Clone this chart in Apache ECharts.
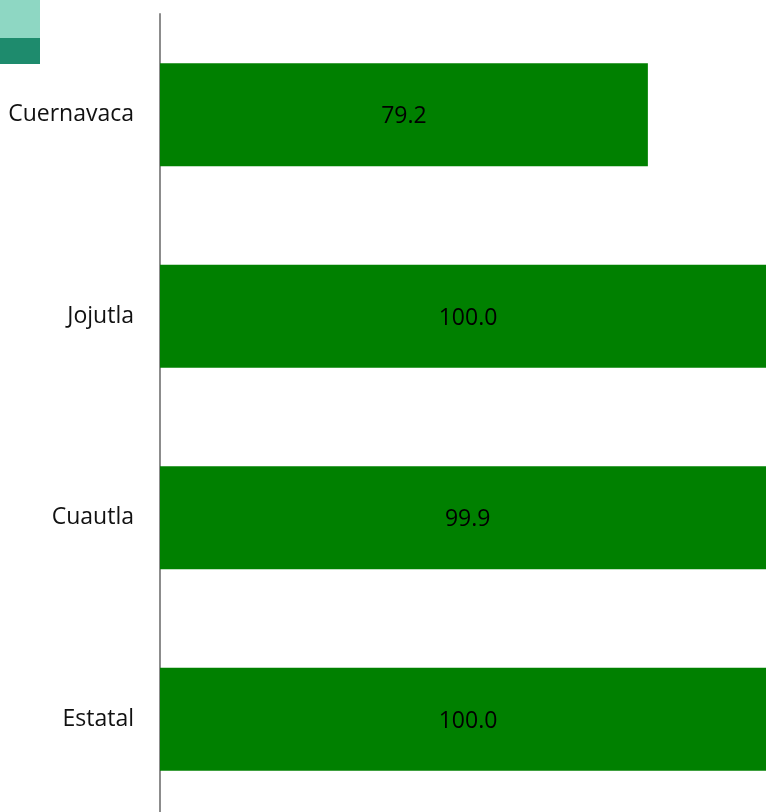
<!DOCTYPE html>
<html>
<head>
<meta charset="utf-8">
<script src="https://cdn.jsdelivr.net/npm/echarts@6/dist/echarts.min.js"></script>
<style>
  html, body { margin: 0; padding: 0; background: #fff; overflow: hidden; }
  /* the plot runs slightly past the right and bottom edges of the window */
  #chart { width: 776px; height: 820px; }
</style>
</head>
<body>
<div id="chart"></div>
<script>
// Coverage by region, percent
const categories = ['Cuernavaca', 'Jojutla', 'Cuautla', 'Estatal'];
const values = [79.2, 100.0, 99.9, 100.0];
const axisMin = 0;
const axisMax = 100;

const chart = echarts.init(document.getElementById('chart'), null, { renderer: 'canvas' });
const font = '"Open Sans", "Noto Sans", sans-serif';

chart.setOption({
  animation: false,
  backgroundColor: '#ffffff',
  grid: { left: 160, right: 0, top: 14, bottom: 0, containLabel: false },
  xAxis: {
    type: 'value',
    min: axisMin,
    max: axisMax,
    show: false
  },
  yAxis: {
    type: 'category',
    data: categories,
    inverse: true,
    axisLine: { show: true, lineStyle: { color: '#8c8c8c', width: 2 } },
    axisTick: { show: false },
    axisLabel: { color: '#111111', fontSize: 23, fontFamily: font, margin: 26 },
    splitLine: { show: false }
  },
  graphic: [
    { type: 'rect', left: 0, top: 0, shape: { width: 40, height: 38 }, style: { fill: '#8ed7c3' } },
    { type: 'rect', left: 0, top: 38, shape: { width: 40, height: 26 }, style: { fill: '#1e8b6d' } }
  ],
  series: [{
    type: 'bar',
    data: values,
    barWidth: 103,
    itemStyle: { color: '#008000' },
    label: {
      show: true,
      position: 'inside',
      offset: [0, 2],
      color: '#000000',
      fontSize: 23,
      fontFamily: font,
      formatter: p => p.value.toFixed(1)
    }
  }]
});
</script>
</body>
</html>
